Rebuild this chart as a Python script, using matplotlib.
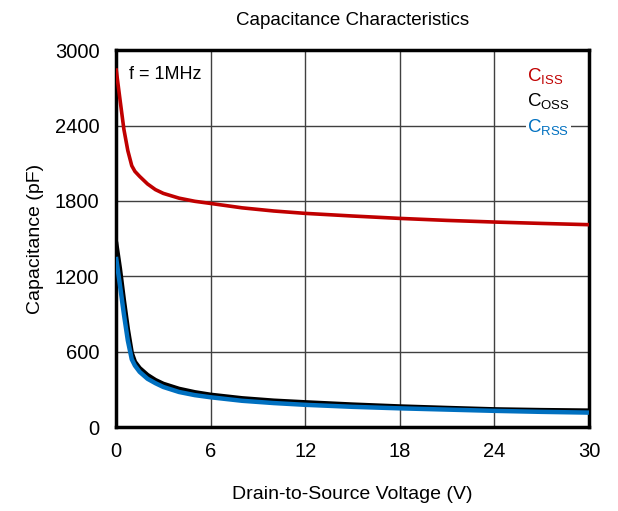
import matplotlib
matplotlib.use("Agg")
import matplotlib.pyplot as plt

plt.rcParams['font.family'] = ['Liberation Sans', 'DejaVu Sans']
plt.rcParams['mathtext.default'] = 'regular'

# values
vds = [0, 0.25, 0.5, 0.75, 1.0, 1.2, 1.5, 2, 2.5, 3, 4, 5, 6, 8, 10, 12, 15, 18, 21, 24, 27, 30]
ciss = [2855, 2610, 2370, 2200, 2080, 2035, 1995, 1935, 1890, 1860, 1822, 1797, 1780,
        1745, 1720, 1701, 1680, 1661, 1645, 1632, 1621, 1611]
coss = [1475, 1260, 1010, 780, 590, 520, 470, 415, 375, 345, 305, 278, 258,
        230, 211, 198, 180, 165, 153, 142, 136, 132]
crss = [1355, 1130, 900, 690, 540, 490, 440, 385, 350, 320, 280, 255, 238,
        210, 192, 178, 162, 150, 140, 130, 122, 116]

x_ticks = [0, 6, 12, 18, 24, 30]
y_ticks = [0, 600, 1200, 1800, 2400, 3000]

red = '#C00000'
blue = '#0070C0'

fig = plt.figure(figsize=(6.18, 5.11), dpi=100)
ax = fig.add_axes([0.1877, 0.164, 0.7653, 0.738])

ax.plot(vds, ciss, color=red, lw=2.6, solid_capstyle='butt', zorder=3)
ax.plot(vds, coss, color='black', lw=3.2, solid_capstyle='butt', zorder=3)
ax.plot(vds, crss, color=blue, lw=3.2, solid_capstyle='butt', zorder=4)

ax.set_xlim(0, 30)
ax.set_ylim(0, 3000)
ax.set_xticks(x_ticks)
ax.set_yticks(y_ticks)
ax.grid(True, color='#404040', lw=1.0)
ax.set_axisbelow(True)
ax.tick_params(length=0, labelsize=14.5)
ax.tick_params(axis='y', pad=12)
ax.tick_params(axis='x', pad=11)
for s in ax.spines.values():
    s.set_linewidth(2.5)

ax.set_title('Capacitance Characteristics', fontsize=13.5, pad=18)
ax.set_xlabel('Drain-to-Source Voltage (V)', fontsize=14, labelpad=18)
ax.set_ylabel('Capacitance (pF)', fontsize=14, labelpad=8)

ax.text(0.027, 0.935, 'f = 1MHz', transform=ax.transAxes, fontsize=13,
        va='center', ha='left', zorder=5,
        bbox=dict(facecolor='white', edgecolor='none', pad=3))

labels = [(r'$C_{ISS}$', red), (r'$C_{OSS}$', 'black'), (r'$C_{RSS}$', blue)]
for i, (lab, col) in enumerate(labels):
    ax.text(0.87, 0.932 - i * 0.068, lab, transform=ax.transAxes, fontsize=13.5,
            color=col, va='center', ha='left', zorder=5,
            bbox=dict(facecolor='white', edgecolor='none', pad=1))

fig.savefig('out.png', dpi=100)
